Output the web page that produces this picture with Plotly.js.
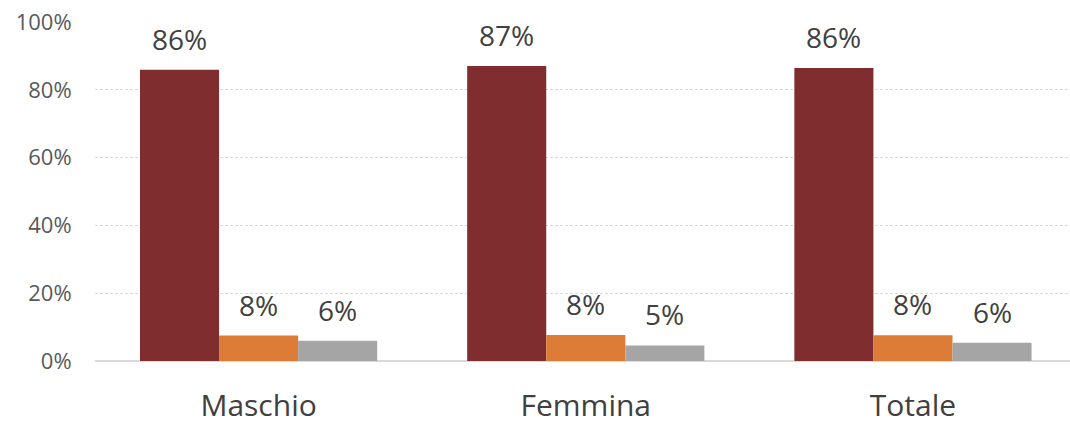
<!DOCTYPE html>
<html>
<head>
<meta charset="utf-8">
<script src="https://cdn.plot.ly/plotly-3.0.1.min.js"></script>
<style>html,body{margin:0;padding:0;background:#fff;}#chart{width:1070px;height:425px;}</style>
</head>
<body>
<div id="chart"></div>
<script>
var categories = ["Maschio", "Femmina", "Totale"];
var seriesA = [85.9, 87.0, 86.4];
var seriesB = [7.5, 7.7, 7.6];
var seriesC = [6.0, 4.6, 5.4];
var labelsA = ["86%", "87%", "86%"];
var labelsB = ["8%", "8%", "8%"];
var labelsC = ["6%", "5%", "6%"];
var yTicks = [0, 20, 40, 60, 80, 100];
var yTickText = ["0%", "20%", "40%", "60%", "80%", "100%"];

var colors = ["#7F2D2F", "#DD7C36", "#A5A5A5"];
var series = [seriesA, seriesB, seriesC];
var labels = [labelsA, labelsB, labelsC];
var barW = 0.2416;

var traces = series.map(function (vals, i) {
  return {
    type: "bar",
    x: categories.map(function (c, j) { return j; }),
    y: vals,
    marker: {color: colors[i], line: {width: 0}},
    hoverinfo: "none"
  };
});

var annotations = [];
series.forEach(function (vals, i) {
  vals.forEach(function (v, j) {
    annotations.push({
      x: j + (i - 1) * barW,
      y: v,
      xref: "x", yref: "y",
      text: labels[i][j],
      showarrow: false,
      yanchor: "middle",
      yshift: 31,
      font: {family: "Open Sans, sans-serif", size: 28, color: "#404040"}
    });
  });
});

var layout = {
  width: 1070, height: 425,
  margin: {l: 95, r: 0, t: 22, b: 64},
  paper_bgcolor: "#ffffff",
  plot_bgcolor: "#ffffff",
  barmode: "group",
  bargap: 0.275,
  bargroupgap: 0,
  showlegend: false,
  xaxis: {
    range: [-0.5, 2.48],
    tickvals: [0, 1, 2],
    ticktext: categories,
    ticks: "outside", ticklen: 18, tickcolor: "rgba(0,0,0,0)",
    showgrid: false, zeroline: false, showline: false,
    tickfont: {family: "Open Sans, sans-serif", size: 30, color: "#404040"}
  },
  yaxis: {
    range: [0, 100],
    tickvals: yTicks,
    ticktext: yTickText,
    ticks: "outside", ticklen: 18, tickcolor: "rgba(0,0,0,0)",
    showgrid: true, gridcolor: "#D9D9D9", griddash: "3px,2px", gridwidth: 1,
    zeroline: true, zerolinecolor: "#D9D9D9", zerolinewidth: 2,
    showline: false,
    tickfont: {family: "Open Sans, sans-serif", size: 22, color: "#595959"}
  },
  annotations: annotations
};

Plotly.newPlot("chart", traces, layout, {displayModeBar: false, staticPlot: true});
</script>
</body>
</html>
